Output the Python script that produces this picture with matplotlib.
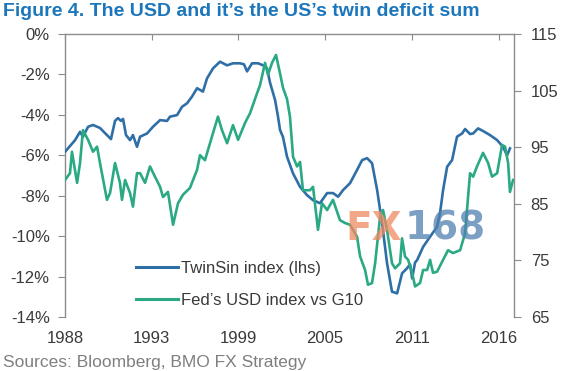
import matplotlib
matplotlib.use("Agg")
import matplotlib.pyplot as plt
from matplotlib.lines import Line2D

# ---- data ----
twin_years = [1988.00, 1988.65, 1988.97, 1989.16, 1989.49, 1989.81, 1990.26, 1990.71, 1990.97,
              1991.23, 1991.42, 1991.62, 1991.75, 1991.94, 1992.20, 1992.39, 1992.65, 1992.85,
              1993.30, 1993.68, 1994.14, 1994.59, 1994.78, 1995.24, 1995.56, 1995.88, 1996.20,
              1996.53, 1996.91, 1997.17, 1997.56, 1998.01, 1998.47, 1998.85, 1999.30, 1999.56,
              1999.76, 2000.08, 2000.47, 2000.79, 2001.05, 2001.24, 2001.57, 2001.76, 2001.89,
              2002.08, 2002.34, 2002.73, 2003.18, 2003.63, 2004.02, 2004.47, 2004.93, 2005.31,
              2005.64, 2005.96, 2006.41, 2006.86, 2007.19, 2007.51, 2007.83, 2008.16, 2008.48,
              2008.80, 2009.12, 2009.45, 2009.77, 2010.09, 2010.29, 2010.42, 2010.61, 2010.74,
              2011.13, 2011.58, 2012.03, 2012.22, 2012.42, 2012.68, 2013.00, 2013.32, 2013.65,
              2013.84, 2014.16, 2014.36, 2014.68, 2015.00, 2015.45, 2015.91, 2016.29, 2016.55,
              2016.74]
twin_values = [-5.83, -5.25, -4.84, -5.08, -4.59, -4.50, -4.65, -5.00, -5.20,
               -4.30, -4.16, -4.30, -4.20, -5.00, -5.25, -5.00, -5.58, -5.08,
               -4.92, -4.59, -4.26, -4.30, -4.09, -4.01, -3.60, -3.43, -3.10,
               -2.68, -2.85, -2.20, -1.70, -1.37, -1.55, -1.45, -1.45, -1.50,
               -1.85, -1.45, -1.45, -1.55, -1.70, -2.40, -3.27, -4.10, -4.75,
               -5.10, -6.07, -6.90, -7.56, -7.97, -8.22, -8.37, -7.87, -7.87,
               -8.05, -7.72, -7.38, -6.73, -6.24, -6.14, -6.39, -7.72, -9.36,
               -11.34, -12.75, -12.83, -11.84, -11.59, -11.40, -12.09, -11.30, -11.19,
               -10.53, -10.03, -9.54, -8.87, -7.72, -6.57, -6.24, -5.08, -4.92,
               -4.70, -4.95, -4.92, -4.67, -4.80, -5.00, -5.25, -5.58, -6.00,
               -5.66]

usd_years = [1988.00, 1988.32, 1988.45, 1988.78, 1988.97, 1989.16, 1989.49, 1989.81, 1990.07,
             1990.26, 1990.71, 1990.91, 1991.23, 1991.55, 1991.68, 1991.88, 1992.20, 1992.39,
             1992.65, 1992.85, 1993.17, 1993.49, 1993.81, 1994.14, 1994.33, 1994.65, 1994.98,
             1995.30, 1995.62, 1996.07, 1996.53, 1996.72, 1997.04, 1997.56, 1997.88, 1998.14,
             1998.47, 1998.85, 1999.18, 1999.63, 1999.95, 2000.40, 2000.60, 2000.92, 2001.11,
             2001.37, 2001.63, 2001.89, 2002.08, 2002.34, 2002.53, 2002.73, 2002.99, 2003.18,
             2003.37, 2003.83, 2004.02, 2004.34, 2004.60, 2004.93, 2005.31, 2005.76, 2006.09,
             2006.41, 2006.86, 2007.06, 2007.38, 2007.57, 2007.83, 2008.03, 2008.35, 2008.54,
             2008.80, 2009.12, 2009.32, 2009.64, 2009.77, 2009.96, 2010.16, 2010.42, 2010.61,
             2010.93, 2011.13, 2011.39, 2011.58, 2011.77, 2012.03, 2012.42, 2012.74, 2013.06,
             2013.52, 2013.84, 2014.16, 2014.36, 2014.61, 2015.00, 2015.33, 2015.58, 2015.91,
             2016.23, 2016.42, 2016.62, 2016.74, 2016.94]
usd_values = [89.2, 90.4, 94.2, 88.7, 92.2, 98.0, 96.3, 94.2, 95.1,
              92.2, 85.7, 86.9, 92.2, 88.7, 85.7, 89.2, 86.9, 84.5,
              90.4, 90.4, 88.7, 91.6, 89.8, 88.0, 86.2, 87.1, 81.3,
              85.1, 86.6, 87.8, 91.0, 93.6, 92.7, 97.5, 100.4, 98.0,
              95.7, 98.9, 96.3, 99.3, 101.0, 104.5, 106.0, 109.9, 107.8,
              109.9, 111.3, 108.0, 105.5, 103.5, 100.4, 93.3, 91.6, 92.4,
              87.4, 87.4, 88.0, 80.4, 85.1, 83.9, 85.7, 82.1, 81.6,
              81.3, 79.2, 75.7, 73.3, 70.7, 71.0, 74.5, 82.7, 83.9,
              80.4, 74.5, 73.6, 74.5, 78.9, 75.7, 75.1, 72.8, 70.4,
              71.0, 73.3, 73.3, 75.1, 72.8, 73.0, 75.1, 76.8, 76.3,
              76.8, 79.8, 90.4, 89.8, 91.6, 94.0, 92.2, 89.8, 90.4,
              95.4, 95.1, 92.2, 87.1, 89.2]

x_tick_labels = ["1988", "1993", "1999", "2005", "2011", "2016"]
left_ticks = [0, -2, -4, -6, -8, -10, -12, -14]
right_ticks = [65, 75, 85, 95, 105, 115]

title = "Figure 4. The USD and it\u2019s the US\u2019s twin deficit sum"
source = "Sources: Bloomberg, BMO FX Strategy"
labels = ["TwinSin index (lhs)", "Fed\u2019s USD index vs G10"]

# ---- style ----
blue = "#2f6fa7"
green = "#2aa984"
axis_col = "#8c8c8c"
text_col = "#3a3a3a"
plt.rcParams['font.family'] = ['Liberation Sans', 'DejaVu Sans']

fig = plt.figure(figsize=(5.77, 3.71), dpi=100)
ax = fig.add_axes([65/577, 1-317/371, (514-65)/577, (317-34)/371])
ax2 = ax.twinx()

ax.plot(twin_years, twin_values, color=blue, lw=1.9, zorder=3)
ax2.plot(usd_years, usd_values, color=green, lw=1.9, zorder=2)

ax.set_xlim(1988.0, 2017.0)
ax.set_ylim(-14, 0)
ax2.set_ylim(65, 115)

tick_pos = [1988.0 + 5.6 * i for i in range(len(x_tick_labels))]
ax.set_xticks(tick_pos)
ax.set_xticklabels(x_tick_labels)
ax.tick_params(axis='x', top=True, bottom=False, labeltop=False, labelbottom=True,
               direction='in', length=4, color=axis_col, labelsize=12, labelcolor=text_col, pad=10)

ax.set_yticks(left_ticks)
ax.set_yticklabels([f"{v}%" for v in left_ticks])
ax.tick_params(axis='y', direction='out', length=5, color=axis_col, labelsize=12,
               labelcolor=text_col, pad=6)
ax2.set_yticks(right_ticks)
ax2.tick_params(axis='y', direction='out', length=5, color=axis_col, labelsize=12,
                labelcolor=text_col, pad=7)

for a in (ax, ax2):
    a.spines['bottom'].set_visible(False)
    for s in ('top', 'left', 'right'):
        a.spines[s].set_color(axis_col)
        a.spines[s].set_linewidth(1.0)
ax2.spines['left'].set_visible(False)
ax2.spines['top'].set_visible(False)
ax.spines['right'].set_visible(False)

# watermark
fig.text(402/577, 1-229/371, "FX", color="#f08a62", alpha=0.75, fontsize=28,
         fontweight='bold', family='DejaVu Sans', ha='right', va='center')
fig.text(405/577, 1-229/371, "168", color="#4f80b0", alpha=0.75, fontsize=28,
         fontweight='bold', family='DejaVu Sans', ha='left', va='center')

handles = [Line2D([], [], color=blue, lw=2.2), Line2D([], [], color=green, lw=2.2)]
ax.legend(handles, labels, loc='lower left', bbox_to_anchor=(121/577, 1-323/371),
          bbox_transform=fig.transFigure, frameon=False, fontsize=12,
          handlelength=2.5, handletextpad=0.2, labelspacing=1.05, labelcolor=text_col)

fig.text(3/577, 1-11/371, title, color="#1b76bb", fontsize=14, fontweight='bold',
         ha='left', va='center')
fig.text(3/577, 1-362/371, source, color="#7f7f7f", fontsize=12.5, ha='left', va='center')

fig.savefig("out.png", dpi=100)
